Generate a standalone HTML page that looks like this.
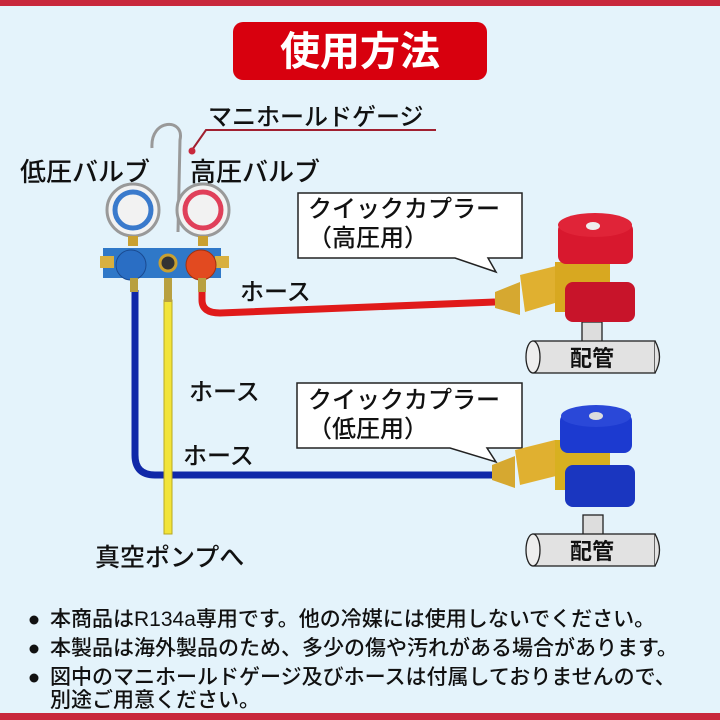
<!DOCTYPE html>
<html><head><meta charset="utf-8"><style>
body{margin:0;width:720px;height:720px;overflow:hidden;background:#e4f3fb;font-family:"Liberation Sans","Noto Sans CJK JP",sans-serif;position:relative}
.t{position:absolute;white-space:nowrap;color:#111;font-weight:bold}
</style></head><body>
<svg width="720" height="720" style="position:absolute;left:0;top:0">
<rect x="0" y="0" width="720" height="6" fill="#c8283c"/>
<rect x="0" y="713" width="720" height="7" fill="#c8283c"/>
<rect x="233" y="22" width="254" height="58" rx="10" fill="#d8000e"/>
<text x="360" y="65" font-size="40" font-weight="bold" fill="#fff" text-anchor="middle" font-family="Noto Sans CJK JP,sans-serif">使用方法</text>
<polyline points="192,150 206,130 436,130" fill="none" stroke="#a02030" stroke-width="2"/>
<circle cx="192" cy="151" r="3.5" fill="#c8283c"/>
<path d="M152,148 C150,118 185,118 180,140 L178,232" fill="none" stroke="#999" stroke-width="3"/>
<path d="M135,290 L135,455 Q135,475 155,475 L492,475" fill="none" stroke="#1028a8" stroke-width="7"/>
<rect x="164" y="300" width="8" height="234" fill="#f2e43a" stroke="#b8a820" stroke-width="1"/>
<path d="M202,290 L202,300 Q202,313 220,313 L495,302" fill="none" stroke="#e01a1a" stroke-width="7"/>
<circle cx="133" cy="210" r="26" fill="#f2f2f2" stroke="#999" stroke-width="3"/>
<circle cx="133" cy="210" r="18" fill="none" stroke="#3a7acc" stroke-width="5"/>
<circle cx="203" cy="210" r="26" fill="#f2f2f2" stroke="#999" stroke-width="3"/>
<circle cx="203" cy="210" r="18" fill="none" stroke="#e0405a" stroke-width="5"/>
<rect x="128" y="236" width="10" height="10" fill="#c9a030"/>
<rect x="198" y="236" width="10" height="10" fill="#c9a030"/>
<rect x="103" y="248" width="118" height="30" fill="#2f78c8"/>
<rect x="100" y="256" width="14" height="12" fill="#d8b040"/>
<rect x="215" y="256" width="14" height="12" fill="#d8b040"/>
<circle cx="131" cy="265" r="15" fill="#2a6ec4" stroke="#1a4a90"/>
<circle cx="201" cy="265" r="15" fill="#e24a20" stroke="#a03010"/>
<circle cx="168" cy="263" r="8" fill="#333" stroke="#c9a030" stroke-width="3"/>
<rect x="130" y="278" width="8" height="14" fill="#b8a040"/>
<rect x="198" y="278" width="8" height="14" fill="#b8a040"/>
<rect x="164" y="278" width="8" height="24" fill="#b8a040"/>
<path d="M298,193 L522,193 L522,258 L488,258 L496,272 L455,258 L298,258 Z" fill="#fff" stroke="#222" stroke-width="1.5"/>
<path d="M297,383 L522,383 L522,448 L487,448 L496,462 L450,448 L297,448 Z" fill="#fff" stroke="#222" stroke-width="1.5"/>
<g stroke="#222" stroke-width="1.3">
<rect x="582" y="322" width="20" height="22" fill="#ddd"/>
<rect x="533" y="341" width="122" height="32" fill="#e2e2e2"/>
<ellipse cx="533" cy="357" rx="7" ry="16" fill="#eee"/>
<path d="M655,341 Q664,357 655,373" fill="#e2e2e2"/>
<rect x="583" y="515" width="20" height="22" fill="#ddd"/>
<rect x="533" y="534" width="122" height="32" fill="#e2e2e2"/>
<ellipse cx="533" cy="550" rx="7" ry="16" fill="#eee"/>
<path d="M655,534 Q664,550 655,566" fill="#e2e2e2"/>
</g>
<path d="M495,292 L520,282 L520,315 L495,308 Z" fill="#d6a830"/>
<polygon points="520,275 560,265 565,300 525,312" fill="#e0b030"/>
<rect x="555" y="262" width="55" height="50" fill="#d8a820"/>
<rect x="565" y="282" width="70" height="40" rx="8" fill="#c8142a"/>
<rect x="558" y="222" width="75" height="42" rx="8" fill="#d8182e"/>
<ellipse cx="595" cy="225" rx="37" ry="12" fill="#e02438"/>
<ellipse cx="593" cy="226" rx="7" ry="4" fill="#eee"/>
<path d="M492,465 L515,456 L515,488 L492,480 Z" fill="#d6a830"/>
<polygon points="515,450 555,440 560,475 520,485" fill="#e0b030"/>
<rect x="555" y="440" width="55" height="50" fill="#d8b020"/>
<rect x="565" y="465" width="70" height="42" rx="8" fill="#1a36c0"/>
<rect x="560" y="413" width="72" height="40" rx="8" fill="#1c3ad0"/>
<ellipse cx="596" cy="416" rx="35" ry="11" fill="#2a48d8"/>
<ellipse cx="596" cy="416" rx="7" ry="4" fill="#ddd"/>
<circle cx="34" cy="620" r="4.5" fill="#111"/>
<circle cx="34" cy="649" r="4.5" fill="#111"/>
<circle cx="34" cy="678" r="4.5" fill="#111"/>
</svg>
<div class="t" style="left:208px;top:97px;font-size:24px;font-weight:500">マニホールドゲージ</div>
<div class="t" style="left:20px;top:152px;font-size:26px;font-weight:500">低圧バルブ</div>
<div class="t" style="left:190px;top:152px;font-size:26px;font-weight:500">高圧バルブ</div>
<div class="t" style="left:308px;top:195px;font-size:24px;line-height:29px;font-weight:500">クイックカプラー<br>（高圧用）</div>
<div class="t" style="left:308px;top:386px;font-size:24px;line-height:29px;font-weight:500">クイックカプラー<br>（低圧用）</div>
<div class="t" style="left:240px;top:272px;font-size:24px;font-weight:500">ホース</div>
<div class="t" style="left:189px;top:372px;font-size:24px;font-weight:500">ホース</div>
<div class="t" style="left:183px;top:436px;font-size:24px;font-weight:500">ホース</div>
<div class="t" style="left:95px;top:538px;font-size:25px;font-weight:500">真空ポンプへ</div>
<div class="t" style="left:570px;top:341px;font-size:22px">配管</div>
<div class="t" style="left:570px;top:534px;font-size:22px">配管</div>
<div class="t" style="left:50px;top:605px;font-size:21px;line-height:29px;font-weight:500">本商品はR134a専用です。他の冷媒には使用しないでください。<br>本製品は海外製品のため、多少の傷や汚れがある場合があります。<br>図中のマニホールドゲージ及びホースは付属しておりませんので、<div style="line-height:23px;margin-top:-3px">別途ご用意ください。</div></div>
</body></html>
